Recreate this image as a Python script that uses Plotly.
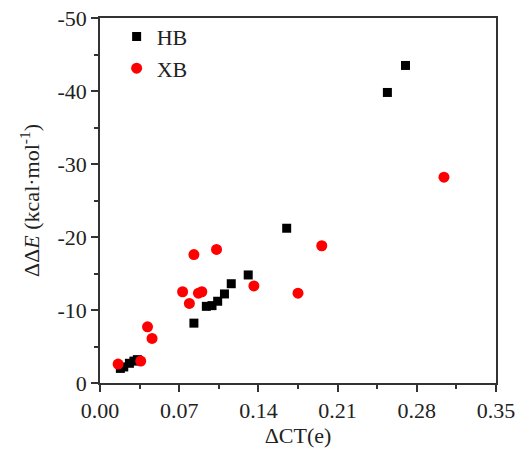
import plotly.graph_objects as go

# HB (hydrogen bond) series
hb_ct = [0.018, 0.021, 0.026, 0.030, 0.033, 0.083, 0.094, 0.099, 0.104, 0.110, 0.116, 0.131, 0.165, 0.254, 0.270]
hb_de = [-2.0, -2.2, -2.7, -3.0, -3.2, -8.2, -10.5, -10.6, -11.2, -12.2, -13.6, -14.8, -21.2, -39.8, -43.5]

# XB (halogen bond) series
xb_ct = [0.016, 0.036, 0.042, 0.046, 0.073, 0.079, 0.083, 0.087, 0.090, 0.103, 0.136, 0.175, 0.196, 0.304]
xb_de = [-2.6, -3.0, -7.7, -6.1, -12.5, -10.9, -17.6, -12.3, -12.5, -18.3, -13.3, -12.3, -18.8, -28.2]

x_ticks = [0.00, 0.07, 0.14, 0.21, 0.28, 0.35]
x_ticktext = ["0.00", "0.07", "0.14", "0.21", "0.28", "0.35"]
y_ticks = [0, -10, -20, -30, -40, -50]
y_ticktext = ["0", "-10", "-20", "-30", "-40", "-50"]

FONT = "Liberation Serif"
AX = "#333333"
FS = 22

fig = go.Figure()
fig.add_trace(go.Scatter(x=hb_ct, y=hb_de, mode="markers", name="HB",
                         marker=dict(symbol="square", size=9, color="black")))
fig.add_trace(go.Scatter(x=xb_ct, y=xb_de, mode="markers", name="XB",
                         marker=dict(symbol="circle", size=11, color="#ff0000")))

fig.update_layout(
    width=520, height=452,
    margin=dict(l=100, r=24, t=18, b=69, autoexpand=False),
    paper_bgcolor="white", plot_bgcolor="white",
    font=dict(family=FONT, size=FS, color="#222222"),
    showlegend=True,
    legend=dict(x=0.042, y=1.006, xanchor="left", yanchor="top",
                bgcolor="rgba(0,0,0,0)", font=dict(family=FONT, size=FS), itemwidth=30),
)
fig.update_xaxes(
    range=[0, 0.35], tickvals=x_ticks, ticktext=x_ticktext, automargin=False,
    showline=True, linecolor=AX, linewidth=1.5, mirror=True,
    ticks="outside", ticklen=7, tickwidth=1.5, tickcolor=AX,
    minor=dict(ticks="outside", ticklen=4, tickwidth=1.5, tickcolor=AX, dtick=0.035, tick0=0),
    showgrid=False, zeroline=False,
    title=dict(text="ΔCT(e)", standoff=2, font=dict(family=FONT, size=FS)),
    tickfont=dict(family=FONT, size=FS),
)
fig.update_yaxes(
    range=[0, -50], tickvals=y_ticks, ticktext=y_ticktext, automargin=False,
    showline=True, linecolor=AX, linewidth=1.5, mirror=True,
    ticks="outside", ticklen=7, tickwidth=1.5, tickcolor=AX,
    minor=dict(ticks="outside", ticklen=4, tickwidth=1.5, tickcolor=AX, dtick=5, tick0=0),
    showgrid=False, zeroline=False,
    title=dict(text="ΔΔ<i>E</i> (kcal·mol<sup>-1</sup>)", standoff=12, font=dict(family=FONT, size=FS)),
    tickfont=dict(family=FONT, size=FS),
)

fig.write_html("out.html", config={"displayModeBar": False},
               post_script="document.body.style.margin='0';document.body.style.padding='0';")
